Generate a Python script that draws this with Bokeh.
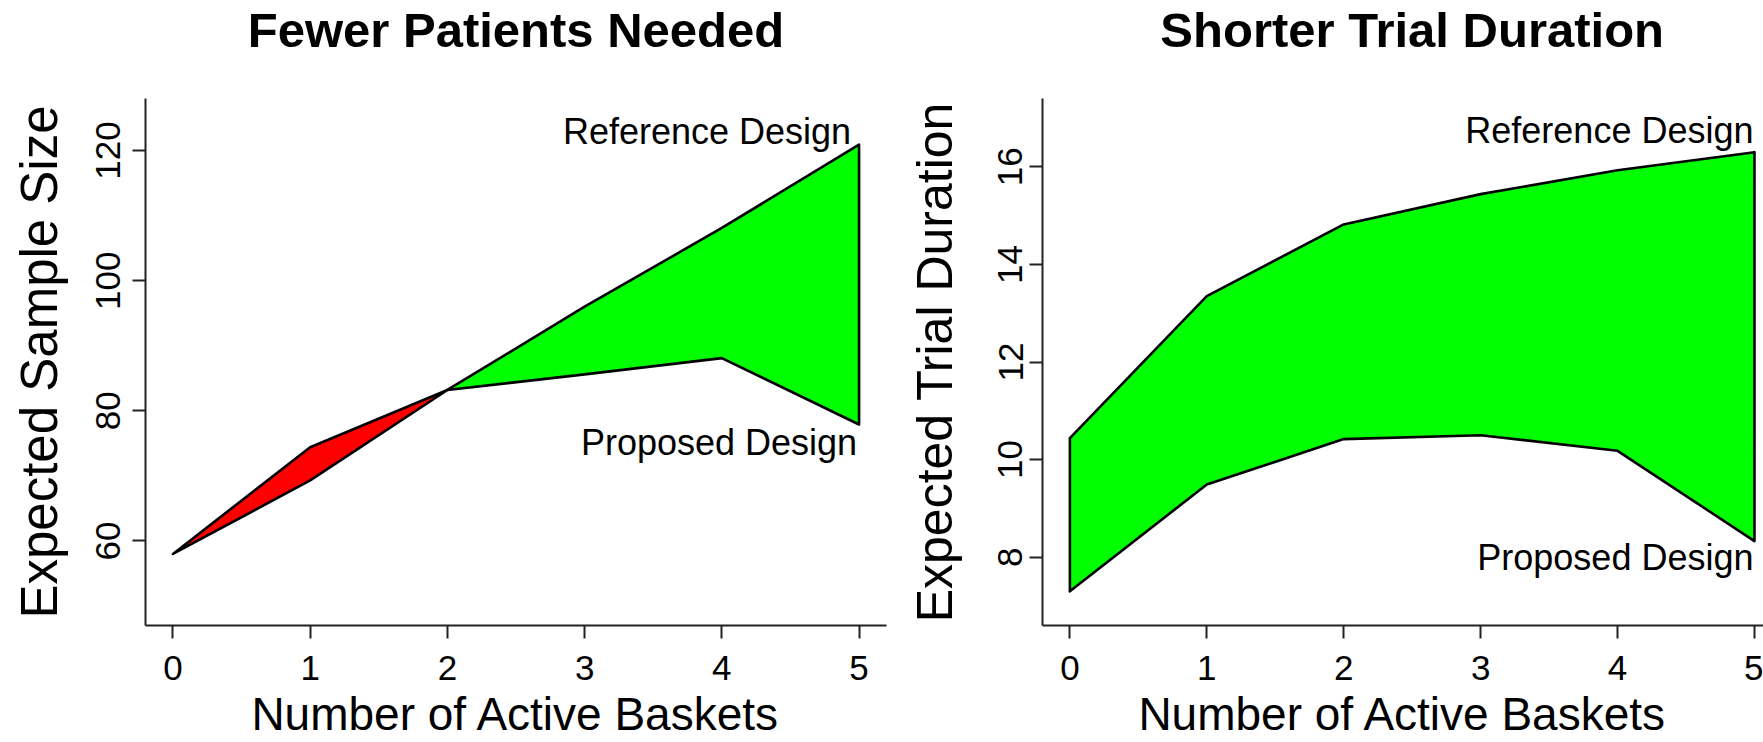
from bokeh.plotting import figure
from bokeh.models import FixedTicker, Range1d
from bokeh.layouts import row, column
from bokeh.core.properties import value
from bokeh.embed import file_html
from bokeh.resources import INLINE

# ---------------- data ----------------
baskets = [0, 1, 2, 3, 4, 5]

# Expected sample size
ess_reference = [58.0, 69.3, 83.2, 96.0, 108.1, 120.9]
ess_proposed = [58.0, 74.4, 83.2, 85.6, 88.1, 77.9]

# Expected trial duration
etd_reference = [10.44, 13.35, 14.82, 15.44, 15.93, 16.30]
etd_proposed = [7.30, 9.49, 10.42, 10.50, 10.18, 8.33]

x_ticks = [0, 1, 2, 3, 4, 5]
ess_ticks = [60, 80, 100, 120]
etd_ticks = [8, 10, 12, 14, 16]

titles = ["Fewer Patients Needed", "Shorter Trial Duration"]
x_title = "Number of Active Baskets"
y_titles = ["Expected Sample Size", "Expected Trial Duration"]
labels = ["Reference Design", "Proposed Design"]

FONT = "Liberation Sans"
GREEN = "#00FF00"
RED = "#FF0000"

TITLE_H = 70
FRAME_TOP = 28
FRAME_H = 529
FIG_H = 742 - TITLE_H


def split_regions(xs, ref, prop):
    """Split the band between two series into pieces of constant sign."""
    xa, ra, pa = [xs[0]], [ref[0]], [prop[0]]
    for i in range(1, len(xs)):
        d0 = ref[i - 1] - prop[i - 1]
        d1 = ref[i] - prop[i]
        if d0 * d1 < 0:
            t = d0 / (d0 - d1)
            xc = xs[i - 1] + t * (xs[i] - xs[i - 1])
            yc = ref[i - 1] + t * (ref[i] - ref[i - 1])
            xa.append(xc); ra.append(yc); pa.append(yc)
        xa.append(xs[i]); ra.append(ref[i]); pa.append(prop[i])
    pieces = []
    start = 0
    for j in range(1, len(xa)):
        if abs(ra[j] - pa[j]) < 1e-9 or j == len(xa) - 1:
            seg = range(start, j + 1)
            px = [xa[k] for k in seg] + [xa[k] for k in reversed(seg)]
            py = [ra[k] for k in seg] + [pa[k] for k in reversed(seg)]
            diff = sum(ra[k] - pa[k] for k in seg)
            pieces.append((px, py, GREEN if diff >= 0 else RED))
            start = j
    return pieces


def make_title(width, border_left, border_right, x_end, title):
    t = figure(width=width, height=TITLE_H, output_backend="svg", toolbar_location=None,
               x_range=Range1d(-0.2, x_end), y_range=Range1d(0, TITLE_H),
               x_axis_location=None, y_axis_location=None,
               min_border_left=border_left, min_border_right=border_right,
               min_border_top=0, min_border_bottom=0)
    t.outline_line_color = None
    t.xgrid.visible = False
    t.ygrid.visible = False
    t.text(x=[2.5], y=[41], text=[title], text_align="center", text_baseline="alphabetic",
           text_font=value(FONT), text_font_size="49px", text_font_style="bold",
           text_color="black")
    return t


def make_panel(width, border_left, border_right, x_end, y_start, y_end, ref, prop,
               yticks, ytitle, ytitle_size, tick_standoff, ytitle_standoff,
               ref_off, prop_off):
    p = figure(width=width, height=FIG_H, output_backend="svg", toolbar_location=None,
               x_range=Range1d(-0.2, x_end), y_range=Range1d(y_start, y_end),
               min_border_left=border_left, min_border_right=border_right,
               min_border_top=FRAME_TOP, min_border_bottom=FIG_H - FRAME_TOP - FRAME_H)
    p.outline_line_color = None
    p.xgrid.visible = False
    p.ygrid.visible = False
    p.background_fill_color = "white"
    p.border_fill_color = "white"

    for ax in (p.xaxis[0], p.yaxis[0]):
        ax.axis_line_color = "#222222"
        ax.axis_line_width = 2
        ax.major_tick_line_color = "#222222"
        ax.major_tick_line_width = 2
        ax.major_tick_out = 13
        ax.major_tick_in = 0
        ax.minor_tick_line_color = None
        ax.major_label_text_font = FONT
        ax.major_label_text_font_size = "35px"
        ax.major_label_text_color = "black"

    p.xaxis.ticker = FixedTicker(ticks=x_ticks)
    p.xaxis.major_label_standoff = 17
    p.xaxis.axis_label = x_title
    p.xaxis.axis_label_text_font = FONT
    p.xaxis.axis_label_text_font_size = "46px"
    p.xaxis.axis_label_text_font_style = "normal"
    p.xaxis.axis_label_text_color = "black"
    p.xaxis.axis_label_standoff = 5

    p.yaxis.ticker = FixedTicker(ticks=yticks)
    p.yaxis.major_label_orientation = "vertical"
    p.yaxis.major_label_standoff = tick_standoff
    p.yaxis.axis_label = ytitle
    p.yaxis.axis_label_text_font = FONT
    p.yaxis.axis_label_text_font_size = ytitle_size
    p.yaxis.axis_label_text_font_style = "normal"
    p.yaxis.axis_label_text_color = "black"
    p.yaxis.axis_label_standoff = ytitle_standoff

    for px, py, col in split_regions(baskets, ref, prop):
        p.patch(px, py, fill_color=col, line_color="black", line_width=2.6,
                line_join="round")

    p.text(x=[baskets[-1]], y=[ref[-1]], text=[labels[0]], text_align="right",
           text_baseline="alphabetic", text_font=value(FONT), text_font_size="36px",
           text_color="black", x_offset=ref_off[0], y_offset=ref_off[1])
    p.text(x=[baskets[-1]], y=[prop[-1]], text=[labels[1]], text_align="right",
           text_baseline="alphabetic", text_font=value(FONT), text_font_size="36px",
           text_color="black", x_offset=prop_off[0], y_offset=prop_off[1])
    return p


t1 = make_title(888, 145, 2, 5.2, titles[0])
p1 = make_panel(888, 145, 2, 5.2, 47.0, 128.0, ess_reference, ess_proposed, ess_ticks,
                y_titles[0], "51px", 12, 26, (-8, -13), (-2, 18))
t2 = make_title(875, 154, 0, 5.066, titles[1])
p2 = make_panel(875, 154, 0, 5.066, 6.6, 17.4, etd_reference, etd_proposed, etd_ticks,
                y_titles[1], "50px", 7, 33, (-1, -22), (-1, 16))

layout = row(column(t1, p1), column(t2, p2))
open("out.html", "w").write(file_html(layout, INLINE))
